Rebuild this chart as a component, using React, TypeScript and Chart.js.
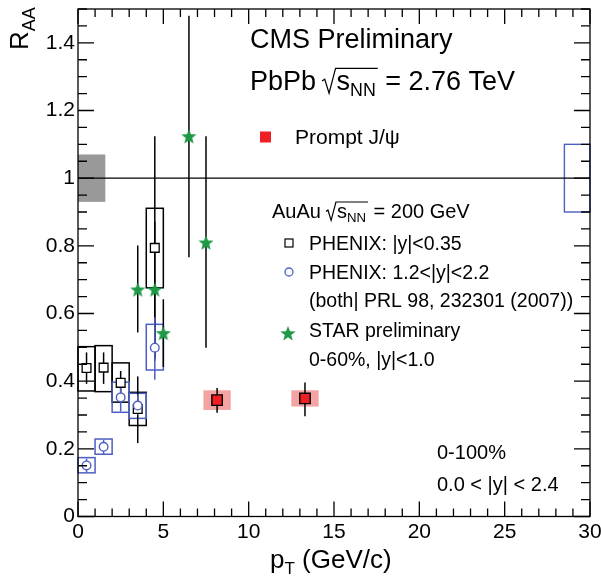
import { useEffect, useRef } from 'react';
import { Chart, registerables } from 'chart.js';

Chart.register(...registerables);

const FONT = '"Liberation Sans", Arial, Helvetica, sans-serif';

// Axis ticks
const yTickValues = [0, 0.2, 0.4, 0.6, 0.8, 1, 1.2, 1.4];
const yTickLabels = ['0', '0.2', '0.4', '0.6', '0.8', '1', '1.2', '1.4'];

// CMS prompt J/psi (PbPb 2.76 TeV)
const cmsX = [8.15, 13.3];
const cmsY = [0.344, 0.349];
const cmsErrUp = [0.036, 0.047];
const cmsErrDn = [0.037, 0.053];
const cmsSys = [0.029, 0.024];
const cmsBoxHalfWidth = [0.8, 0.8];

// PHENIX |y|<0.35
const phxMidX = [0.5, 1.5, 2.5, 3.5, 4.5];
const phxMidY = [0.439, 0.44, 0.395, 0.318, 0.794];
const phxMidErrUp = [0.046, 0.045, 0.035, 0.096, 0.33];
const phxMidErrDn = [0.047, 0.048, 0.035, 0.101, 0.334];
const phxMidSysUp = [0.063, 0.065, 0.059, 0.049, 0.117];
const phxMidSysDn = [0.068, 0.071, 0.057, 0.049, 0.118];

// PHENIX 1.2<|y|<2.2
const phxFwdX = [0.5, 1.5, 2.5, 3.5, 4.5];
const phxFwdY = [0.151, 0.206, 0.352, 0.328, 0.499];
const phxFwdErrUp = [0.02, 0.021, 0.043, 0.032, 0.09];
const phxFwdErrDn = [0.021, 0.021, 0.042, 0.028, 0.095];
const phxFwdSysUp = [0.023, 0.023, 0.045, 0.036, 0.069];
const phxFwdSysDn = [0.022, 0.022, 0.044, 0.038, 0.066];

// STAR preliminary
const starX = [3.5, 4.5, 5.0, 6.5, 7.5];
const starY = [0.671, 0.671, 0.542, 1.124, 0.81];
const starErrUp = [0.13, 0.2, 0.1, 0.356, 0.314];
const starErrDn = [0.127, 0.2, 0.1, 0.358, 0.311];

// Global uncertainties
const cmsGlobal = { x0: 0, x1: 1.6, y: 1, d: 0.07 };
const phxGlobal = { x0: 28.5, x1: 30, y: 1, d: 0.1 };

const BLUE = '#4c5fc4';
const GREEN = '#1e9a46';
const RED = '#ee2024';
const PINK = '#f4a3a3';

function makeStar(R: number, color: string) {
  const c = document.createElement('canvas');
  const s = Math.ceil(2 * R + 2);
  c.width = s;
  c.height = s;
  const g = c.getContext('2d')!;
  drawStarPath(g, s / 2, s / 2 + R * 0.1, R);
  g.fillStyle = color;
  g.fill();
  return c;
}

function drawStarPath(g: CanvasRenderingContext2D, cx: number, cy: number, R: number) {
  g.beginPath();
  for (let i = 0; i < 10; i++) {
    const a = -Math.PI / 2 + (i * Math.PI) / 5;
    const r = i % 2 ? R * 0.42 : R;
    const px = cx + r * Math.cos(a);
    const py = cy + r * Math.sin(a);
    if (i === 0) g.moveTo(px, py);
    else g.lineTo(px, py);
  }
  g.closePath();
}

function drawSqrtS(g: CanvasRenderingContext2D, x: number, base: number, size: number) {
  g.font = `${size}px ${FONT}`;
  const sW = g.measureText('s').width;
  const subSize = size * 0.66;
  g.font = `${subSize}px ${FONT}`;
  const nnW = g.measureText('NN').width;
  const rx = x;
  const top = base - size * 0.8;
  const inner = rx + size * 0.5;
  g.save();
  g.strokeStyle = '#000';
  g.lineWidth = 1.2;
  g.beginPath();
  g.moveTo(rx, base - size * 0.33);
  g.lineTo(rx + size * 0.1, base - size * 0.4);
  g.lineTo(rx + size * 0.26, base + size * 0.12);
  g.lineTo(inner, top);
  g.lineTo(inner + sW + nnW + 3, top);
  g.stroke();
  g.restore();
  g.font = `${size}px ${FONT}`;
  g.fillText('s', inner + 1, base);
  g.font = `${subSize}px ${FONT}`;
  g.fillText('NN', inner + 1 + sW, base + size * 0.22);
  return inner + 3 + sW + nnW;
}

const boxesPlugin = {
  id: 'boxes',
  beforeDatasetsDraw(chart: any) {
    const g: CanvasRenderingContext2D = chart.ctx;
    const xs = chart.scales.x;
    const ys = chart.scales.y;
    const X = (v: number) => xs.getPixelForValue(v);
    const Y = (v: number) => ys.getPixelForValue(v);
    g.save();
    g.fillStyle = '#999999';
    g.fillRect(X(cmsGlobal.x0), Y(cmsGlobal.y + cmsGlobal.d), X(cmsGlobal.x1) - X(cmsGlobal.x0), Y(cmsGlobal.y - cmsGlobal.d) - Y(cmsGlobal.y + cmsGlobal.d));
    g.strokeStyle = BLUE;
    g.lineWidth = 1.4;
    g.strokeRect(X(phxGlobal.x0), Y(phxGlobal.y + phxGlobal.d), X(phxGlobal.x1) - X(phxGlobal.x0), Y(phxGlobal.y - phxGlobal.d) - Y(phxGlobal.y + phxGlobal.d));
    g.fillStyle = PINK;
    cmsX.forEach((x, i) => {
      const x0 = X(x - cmsBoxHalfWidth[i]);
      const x1 = X(x + cmsBoxHalfWidth[i]);
      const y0 = Y(cmsY[i] + cmsSys[i]);
      const y1 = Y(cmsY[i] - cmsSys[i]);
      g.fillRect(x0, y0, x1 - x0, y1 - y0);
    });
    const box = (xc: number, yc: number, up: number, dn: number, col: string) => {
      const x0 = X(xc - 0.5);
      const x1 = X(xc + 0.5);
      const y0 = Y(yc + up);
      const y1 = Y(yc - dn);
      g.strokeStyle = col;
      g.lineWidth = 1.5;
      g.strokeRect(x0, y0, x1 - x0, y1 - y0);
    };
    phxMidX.forEach((x, i) => box(x, phxMidY[i], phxMidSysUp[i], phxMidSysDn[i], '#000'));
    phxFwdX.forEach((x, i) => box(x, phxFwdY[i], phxFwdSysUp[i], phxFwdSysDn[i], BLUE));
    const err = (x: number, y: number, up: number, dn: number, col: string) => {
      g.strokeStyle = col;
      g.lineWidth = 1.5;
      g.beginPath();
      g.moveTo(X(x), Y(y + up));
      g.lineTo(X(x), Y(y - dn));
      g.stroke();
    };
    starX.forEach((x, i) => err(x, starY[i], starErrUp[i], starErrDn[i], '#000'));
    phxMidX.forEach((x, i) => err(x, phxMidY[i], phxMidErrUp[i], phxMidErrDn[i], '#000'));
    phxFwdX.forEach((x, i) => err(x, phxFwdY[i], phxFwdErrUp[i], phxFwdErrDn[i], BLUE));
    cmsX.forEach((x, i) => err(x, cmsY[i], cmsErrUp[i], cmsErrDn[i], '#000'));
    g.restore();
  },
};

const framePlugin = {
  id: 'frame',
  afterDatasetsDraw(chart: any) {
    const g: CanvasRenderingContext2D = chart.ctx;
    const a = chart.chartArea;
    const xs = chart.scales.x;
    const ys = chart.scales.y;
    g.save();
    g.strokeStyle = '#000';
    g.lineWidth = 1.3;
    g.strokeRect(a.left, a.top, a.right - a.left, a.bottom - a.top);
    g.beginPath();
    for (let v = 0; v <= 30; v++) {
      const px = xs.getPixelForValue(v);
      const len = v % 5 === 0 ? 15 : 8;
      g.moveTo(px, a.bottom);
      g.lineTo(px, a.bottom - len);
      g.moveTo(px, a.top);
      g.lineTo(px, a.top + len);
    }
    for (let k = 0; k <= 30; k++) {
      const v = k * 0.05;
      const py = ys.getPixelForValue(v);
      const len = k % 4 === 0 ? 16 : 9;
      g.moveTo(a.left, py);
      g.lineTo(a.left + len, py);
      g.moveTo(a.right, py);
      g.lineTo(a.right - len, py);
    }
    g.stroke();
    g.restore();
  },
  afterDraw(chart: any) {
    const g: CanvasRenderingContext2D = chart.ctx;
    g.save();
    g.fillStyle = '#000';
    g.textBaseline = 'alphabetic';
    g.textAlign = 'left';

    g.font = `27px ${FONT}`;
    g.fillText('CMS Preliminary', 250, 48);
    g.fillText('PbPb', 250, 90);
    let x = 250 + g.measureText('PbPb').width + 6;
    x = drawSqrtS(g, x, 90, 27);
    g.font = `27px ${FONT}`;
    g.fillText(' = 2.76 TeV', x, 90);

    g.fillStyle = RED;
    g.fillRect(260, 131.5, 11, 11);
    g.fillStyle = '#000';
    g.font = `21px ${FONT}`;
    g.fillText('Prompt J/\u03c8', 295, 144);

    g.font = `20px ${FONT}`;
    g.fillText('AuAu', 272, 218);
    let x2 = 272 + g.measureText('AuAu').width + 5;
    x2 = drawSqrtS(g, x2, 218, 20);
    g.font = `20px ${FONT}`;
    g.fillText(' = 200 GeV', x2, 218);

    g.font = `19.5px ${FONT}`;
    g.fillText('PHENIX: |y|<0.35', 309, 249.5);
    g.fillText('PHENIX: 1.2<|y|<2.2', 309, 278.5);
    g.fillText('(both| PRL 98, 232301 (2007))', 309, 307);
    g.fillText('STAR preliminary', 309, 337);
    g.fillText('0-60%, |y|<1.0', 309, 366);

    g.strokeStyle = '#000';
    g.lineWidth = 1.2;
    g.strokeRect(285, 239, 8, 8);
    g.strokeStyle = BLUE;
    g.lineWidth = 1.3;
    g.beginPath();
    g.arc(289, 272, 4, 0, Math.PI * 2);
    g.stroke();
    drawStarPath(g, 288, 334, 8);
    g.fillStyle = GREEN;
    g.fill();
    g.fillStyle = '#000';

    g.font = `20px ${FONT}`;
    g.fillText('0-100%', 437, 459);
    g.fillText('0.0 < |y| < 2.4', 437, 491);

    g.font = `26px ${FONT}`;
    g.fillText('p', 270, 568);
    const pw = g.measureText('p').width;
    g.font = `17px ${FONT}`;
    g.fillText('T', 270 + pw, 574);
    const tw = g.measureText('T').width;
    g.font = `26px ${FONT}`;
    g.fillText(' (GeV/c)', 270 + pw + tw, 568);

    g.save();
    g.translate(28, 50);
    g.rotate(-Math.PI / 2);
    g.font = `26px ${FONT}`;
    g.fillText('R', 0, 0);
    const rw = g.measureText('R').width;
    g.font = `18px ${FONT}`;
    g.fillText('AA', rw, 7);
    g.restore();

    g.restore();
  },
};

export default function App() {
  const ref = useRef<HTMLCanvasElement>(null);
  useEffect(() => {
    document.body.style.margin = '0';
    const starImg = makeStar(8, GREEN);
    const canvas = ref.current!;
    const chart = new Chart(canvas, {
      type: 'scatter',
      data: {
        datasets: [
          {
            type: 'line',
            data: [
              { x: 0, y: 1 },
              { x: 30, y: 1 },
            ],
            borderColor: '#000',
            borderWidth: 1.2,
            pointRadius: 0,
            order: 5,
          } as any,
          {
            label: 'PHENIX |y|<0.35',
            data: phxMidX.map((x, i) => ({ x, y: phxMidY[i] })),
            pointStyle: 'rect',
            pointRadius: 6.2,
            backgroundColor: '#fff',
            borderColor: '#000',
            borderWidth: 1.3,
            order: 4,
          },
          {
            label: 'PHENIX 1.2<|y|<2.2',
            data: phxFwdX.map((x, i) => ({ x, y: phxFwdY[i] })),
            pointStyle: 'circle',
            pointRadius: 4.3,
            backgroundColor: '#fff',
            borderColor: BLUE,
            borderWidth: 1.4,
            order: 3,
          },
          {
            label: 'STAR',
            data: starX.map((x, i) => ({ x, y: starY[i] })),
            pointStyle: starImg as any,
            pointRadius: 8,
            order: 2,
          },
          {
            label: 'CMS',
            data: cmsX.map((x, i) => ({ x, y: cmsY[i] })),
            pointStyle: 'rect',
            pointRadius: 7.4,
            backgroundColor: RED,
            borderColor: '#000',
            borderWidth: 1.4,
            order: 1,
          },
        ],
      },
      options: {
        responsive: false,
        animation: false,
        devicePixelRatio: 1,
        layout: { padding: { top: 5, right: 11, left: 0, bottom: 0 } },
        plugins: { legend: { display: false }, tooltip: { enabled: false } },
        scales: {
          x: {
            type: 'linear',
            min: 0,
            max: 30,
            afterFit: (s: any) => {
              s.height = 60.5;
              s.paddingLeft = 0;
              s.paddingRight = 0;
            },
            grid: { display: false, drawTicks: false },
            border: { display: false },
            ticks: {
              stepSize: 5,
              autoSkip: false,
              maxRotation: 0,
              padding: 3,
              color: '#000',
              font: { family: FONT, size: 21 },
            },
          },
          y: {
            type: 'linear',
            min: 0,
            max: 1.5,
            afterFit: (s: any) => {
              s.width = 78;
              s.paddingTop = 0;
              s.paddingBottom = 0;
            },
            afterBuildTicks: (s: any) => {
              s.ticks = yTickValues.map((v) => ({ value: v }));
            },
            grid: { display: false, drawTicks: false },
            border: { display: false },
            ticks: {
              padding: 3,
              color: '#000',
              font: { family: FONT, size: 21 },
              callback: (_v: any, i: number) => yTickLabels[i],
            },
          },
        },
      },
      plugins: [boxesPlugin, framePlugin],
    });
    return () => chart.destroy();
  }, []);
  return <canvas ref={ref} width={601} height={577} style={{ display: 'block', width: 601, height: 577 }} />;
}
